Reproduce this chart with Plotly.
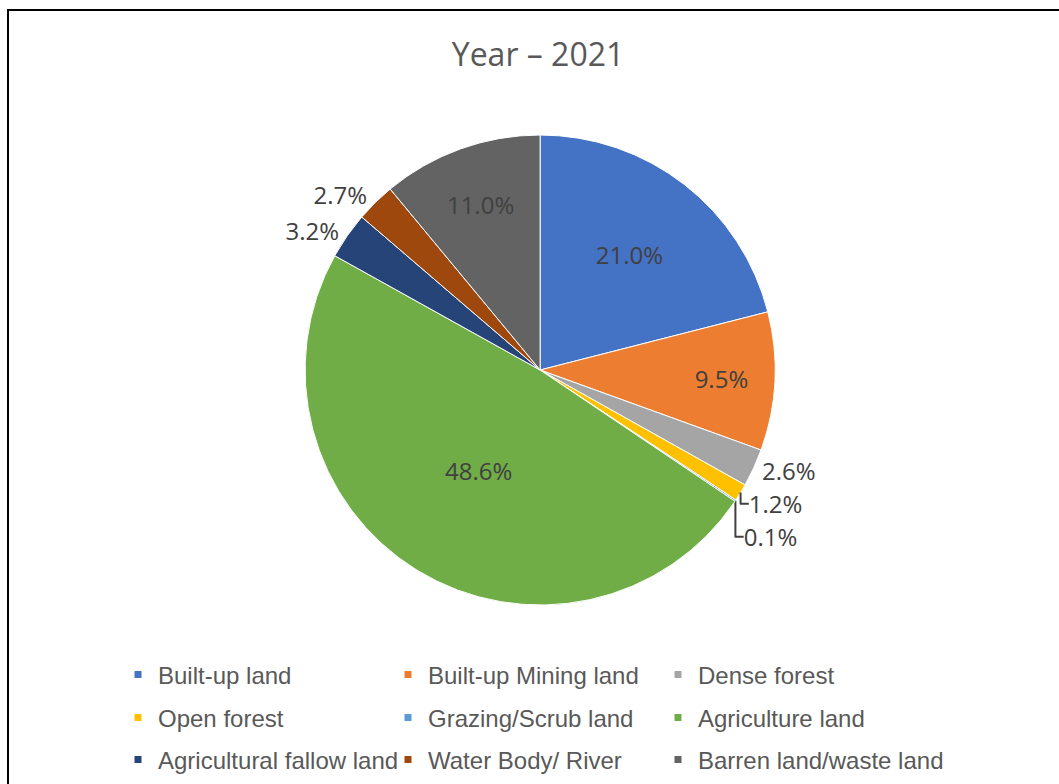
import plotly.graph_objects as go

categories = ["Built-up land", "Built-up Mining land", "Dense forest",
              "Open forest", "Grazing/Scrub land", "Agriculture land",
              "Agricultural fallow land", "Water Body/ River", "Barren land/waste land"]
values = [21.0, 9.5, 2.6, 1.2, 0.1, 48.6, 3.2, 2.7, 11.0]
colors = ["#4472C4", "#ED7D31", "#A5A5A5", "#FFC000", "#5B9BD5",
          "#70AD47", "#264478", "#9E480E", "#636363"]
title_text = "Year \u2013 2021"

W, H = 1059, 784
labels_text = [f"{v:.1f}%" for v in values]
positions = ["inside" if v >= 5 else "outside" for v in values]

fig = go.Figure()
fig.add_trace(go.Pie(
    labels=categories,
    values=values,
    sort=False,
    direction="clockwise",
    rotation=0,
    marker=dict(colors=colors, line=dict(color="white", width=1)),
    text=labels_text,
    textinfo="text",
    textposition=positions,
    insidetextorientation="horizontal",
    textfont=dict(family="Open Sans", size=24, color="#404040"),
    domain=dict(x=[0.02, 1.0], y=[(H - 605) / H, (H - 135) / H]),
    showlegend=False,
    hoverinfo="label+percent",
))

# legend grid: 3 columns x 3 rows, one small legend per cell
col_x = [118, 388, 658]
row_y = [675, 718, 760]
legend_common = dict(orientation="h", xanchor="left", yanchor="middle",
                     xref="container", yref="container",
                     bgcolor="rgba(0,0,0,0)",
                     font=dict(family="Liberation Sans", size=24, color="#595959"),
                     itemwidth=30)
legend_layouts = {}
for i, (cat, col) in enumerate(zip(categories, colors)):
    lid = "legend" if i == 0 else f"legend{i + 1}"
    fig.add_trace(go.Scatter(
        x=[None], y=[None], mode="markers", name=cat,
        marker=dict(symbol="square", size=7, color=col),
        legend=lid, showlegend=True, hoverinfo="skip",
    ))
    legend_layouts[lid] = dict(x=col_x[i % 3] / W, y=1 - row_y[i // 3] / H, **legend_common)

fig.update_layout(
    width=W, height=H,
    autosize=False,
    margin=dict(l=0, r=0, t=0, b=0, autoexpand=False),
    paper_bgcolor="white",
    plot_bgcolor="white",
    xaxis=dict(visible=False), yaxis=dict(visible=False),
    title=dict(text=title_text, x=538 / W, y=1 - 55 / H, xanchor="center", yanchor="middle",
               font=dict(family="Open Sans", size=32, color="#595959")),
    showlegend=True,
    shapes=[
        dict(type="line", xref="paper", yref="paper", x0=8 / W, x1=8 / W, y0=1 - 10 / H, y1=-0.05,
             line=dict(color="black", width=2)),
        dict(type="line", xref="paper", yref="paper", x0=7 / W, x1=1.05, y0=1 - 10 / H, y1=1 - 10 / H,
             line=dict(color="black", width=2)),
    ],
    **legend_layouts,
)

fig.write_html("out.html")
